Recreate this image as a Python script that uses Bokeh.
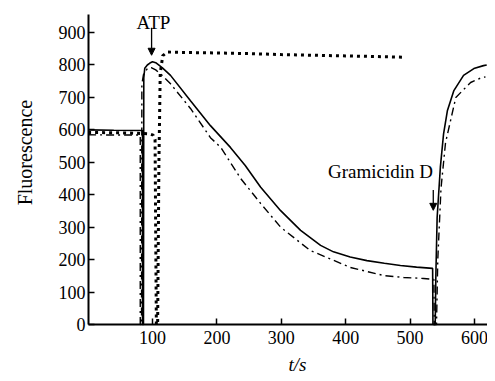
from bokeh.plotting import figure
from bokeh.models import Range1d, FixedTicker, Label, Arrow, NormalHead
from bokeh.embed import file_html
from bokeh.resources import INLINE

# --- data ---
solid_t = [0, 40, 84.5, 84.5, 86, 86.5, 88, 92, 96, 100, 105, 115, 128, 159, 190, 221, 244, 268,
           299, 330, 361, 381, 407, 433, 460, 485, 510, 535, 535.5, 539, 540, 542, 547, 552, 558,
           568, 583, 599, 614, 619]
solid_v = [600, 599, 598, 0, 0, 760, 790, 800, 806, 810, 807, 792, 768, 690, 613, 546, 490, 423,
           351, 290, 244, 224, 208, 197, 189, 182, 177, 173, 0, 0, 150, 330, 485, 588, 660,
           721, 768, 789, 798, 800]

dashdot_t = [0, 40, 81, 81, 83, 83.5, 86, 92, 98, 105, 115, 128, 159, 190, 206, 237, 268, 299,
             345, 355, 407, 459, 490, 521, 537, 537.5, 541, 543, 548, 555, 571, 594, 612, 617]
dashdot_v = [585, 584, 584, 0, 0, 740, 770, 789, 792, 785, 768, 742, 666, 576, 546, 450, 373, 300,
             228, 220, 176, 151, 145, 142, 139, 0, 0, 200, 420, 560, 700, 746, 762, 763]

dotted_t = [0, 50, 95, 101, 104, 106, 108, 110, 112, 116, 123, 140, 200, 253, 300, 350, 400, 450, 490]
dotted_v = [592, 591, 588, 584, 570, 0, 0, 500, 774, 829, 840, 839, 837, 835, 832, 830, 828, 826, 824]

x_ticks = [100, 200, 300, 400, 500, 600]
y_ticks = [0, 100, 200, 300, 400, 500, 600, 700, 800, 900]
x_tick_labels = [str(t) for t in x_ticks]
y_tick_labels = [str(t) for t in y_ticks]

FONT = "Liberation Serif"
TICK_SIZE = "18px"

# frame covers the whole canvas; axes are pinned at t=0 and F=0
X_MIN, X_MAX = -136.0, 620.2
Y_MIN, Y_MAX = -151.0, 998.8
Y_AXIS_TOP = 955.6
XLAB_Y = -18.5     # data-space offset of x tick labels below the axis
YLAB_X = -4.0      # data-space offset of y tick labels left of the axis

p = figure(width=487, height=373, output_backend="svg", toolbar_location=None,
           x_range=Range1d(X_MIN, X_MAX), y_range=Range1d(Y_MIN, Y_MAX), min_border=0)
p.outline_line_color = None
p.grid.visible = False
p.background_fill_color = "white"
p.border_fill_color = "white"

p.xaxis.fixed_location = 0
p.yaxis.fixed_location = 0
p.xaxis.bounds = (0, X_MAX)
p.yaxis.bounds = (0, Y_AXIS_TOP)
p.xaxis.ticker = FixedTicker(ticks=x_ticks)
p.yaxis.ticker = FixedTicker(ticks=y_ticks)
p.xaxis.major_label_overrides = {t: "" for t in x_ticks}
p.yaxis.major_label_overrides = {t: "" for t in y_ticks}
p.axis.axis_line_width = 2
p.axis.axis_line_color = "black"
p.axis.major_tick_in = 6
p.axis.major_tick_out = 0
p.axis.major_tick_line_width = 1.5
p.axis.major_tick_line_color = "black"
p.axis.minor_tick_line_color = None
p.axis.major_label_standoff = 0

# serif tick labels, placed from the tick arrays
for t, s in zip(x_ticks, x_tick_labels):
    p.add_layout(Label(x=t, y=XLAB_Y, text=s, text_align="center", text_baseline="top",
                       text_font=FONT, text_font_size=TICK_SIZE, text_color="black"))
for t, s in zip(y_ticks, y_tick_labels):
    p.add_layout(Label(x=YLAB_X, y=t, text=s, text_align="right", text_baseline="middle",
                       text_font=FONT, text_font_size=TICK_SIZE, text_color="black"))

p.line(solid_t, solid_v, line_color="black", line_width=1.6)
p.line(dashdot_t, dashdot_v, line_color="black", line_width=1.4, line_dash="8 4 2 4")
p.line(dotted_t, dotted_v, line_color="black", line_width=3, line_dash="3 4")

p.add_layout(Label(x=101.5, y=931, text="ATP", text_align="center", text_baseline="alphabetic",
                   text_font=FONT, text_font_size="19px", text_color="black"))
p.add_layout(Label(x=454, y=472, text="Gramicidin D", text_align="center", text_baseline="alphabetic",
                   text_font=FONT, text_font_size="19px", text_color="black"))
p.add_layout(Label(x=-98, y=530, text="Fluorescence", angle=1.5707963, text_align="center",
                   text_baseline="middle", text_font=FONT, text_font_size="20px", text_color="black"))
p.add_layout(Label(x=325, y=-122, text="t/s", text_align="center", text_baseline="alphabetic",
                   text_font=FONT, text_font_size="19px", text_font_style="italic", text_color="black"))
p.add_layout(Arrow(end=NormalHead(size=7, fill_color="black", line_color="black"),
                   x_start=98.6, y_start=915, x_end=98.6, y_end=830, line_width=1.3, line_color="black"))
p.add_layout(Arrow(end=NormalHead(size=7, fill_color="black", line_color="black"),
                   x_start=536, y_start=415, x_end=536, y_end=352, line_width=1.3, line_color="black"))

open("out.html", "w").write(file_html(p, INLINE))
